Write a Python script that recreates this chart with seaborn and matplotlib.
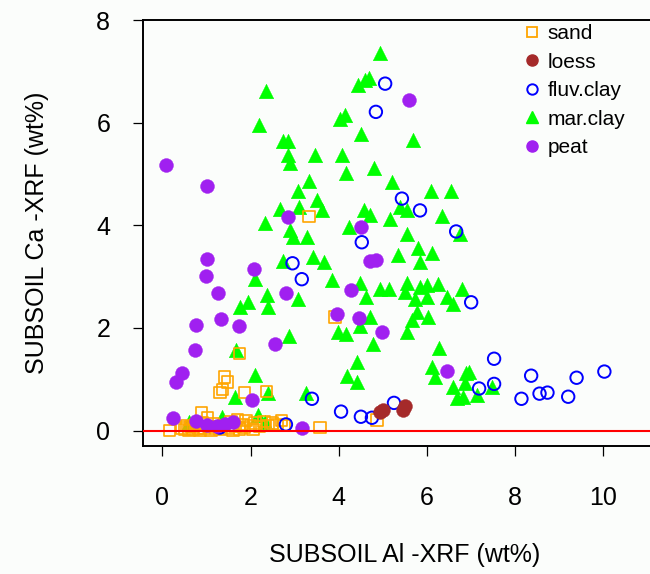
import matplotlib
matplotlib.use("Agg")
import matplotlib.pyplot as plt
from matplotlib.lines import Line2D
import seaborn as sns
import pandas as pd

# ---------------- data ----------------
sand_x = [3.32, 3.91, 1.75, 1.41, 1.48, 1.36, 1.30, 1.86, 2.36, 3.57, 4.86, 0.16, 0.89, 1.02,
          0.45, 0.50, 0.55, 0.60, 0.65, 0.70, 0.75, 0.80, 0.85, 0.90, 0.95, 1.05, 1.10, 1.15,
          1.20, 1.30, 1.40, 1.50, 1.55, 1.60, 1.65, 1.70, 1.75, 1.80, 1.85, 1.90, 2.00, 2.05,
          2.10, 2.20, 2.30, 2.40, 2.50, 2.60, 2.70, 2.75]
sand_y = [4.17, 2.21, 1.50, 1.05, 0.95, 0.80, 0.74, 0.74, 0.76, 0.06, 0.21, 0.00, 0.35, 0.25,
          0.05, 0.02, 0.10, 0.00, 0.08, 0.03, 0.12, 0.05, 0.00, 0.15, 0.04, 0.08, 0.00, 0.13,
          0.05, 0.02, 0.10, 0.04, 0.18, 0.00, 0.08, 0.22, 0.03, 0.12, 0.06, 0.20, 0.10, 0.02,
          0.15, 0.08, 0.18, 0.10, 0.15, 0.12, 0.20, 0.10]

loess_x = [4.93, 5.00, 5.45, 5.50]
loess_y = [0.37, 0.41, 0.41, 0.47]

fluv_x = [5.05, 4.84, 5.43, 5.84, 6.66, 4.52, 2.95, 3.16, 7.00, 7.52, 8.36, 9.39, 10.02,
          7.52, 7.18, 8.14, 8.55, 8.73, 9.20, 3.39, 4.05, 4.50, 4.75, 5.25, 2.80, 1.30]
fluv_y = [6.76, 6.21, 4.52, 4.29, 3.88, 3.67, 3.26, 2.95, 2.50, 1.40, 1.07, 1.03, 1.15,
          0.91, 0.82, 0.62, 0.72, 0.74, 0.66, 0.62, 0.37, 0.27, 0.25, 0.54, 0.12, 0.06]

mar_x = [4.93, 4.59, 4.68, 4.43, 2.34, 4.02, 4.14, 2.20, 4.50, 2.73, 2.84, 2.84, 2.89, 3.45,
         4.07, 4.16, 4.80, 5.68, 3.32, 3.07, 3.50, 5.20, 6.09, 6.55, 2.66, 3.09, 3.61, 4.57,
         4.70, 5.39, 5.55, 6.34, 5.16, 2.32, 2.89, 2.95, 3.27, 4.23, 6.75, 5.55, 5.80, 6.11,
         5.34, 5.84, 3.41, 3.66, 2.73, 3.84, 4.48, 4.93, 4.61, 5.14, 5.55, 5.50, 5.84, 6.00,
         6.25, 6.80, 6.00, 5.73, 6.45, 6.59, 5.77, 6.02, 5.66, 5.55, 2.09, 2.36, 1.93, 1.75,
         2.39, 3.07, 4.70, 4.48, 3.98, 4.16, 4.77, 2.86, 1.66, 4.41, 4.18, 4.41, 2.09, 6.27,
         6.11, 6.18, 6.59, 6.89, 6.95, 6.86, 7.14, 6.68, 6.82, 7.48, 1.64, 2.39, 3.25, 2.16,
         0.61, 2.32, 1.36]
mar_y = [7.36, 6.83, 6.87, 6.74, 6.62, 6.08, 6.14, 5.96, 5.77, 5.65, 5.65, 5.36, 5.22, 5.36,
         5.36, 5.01, 5.11, 5.67, 4.87, 4.66, 4.49, 4.85, 4.66, 4.66, 4.31, 4.35, 4.29, 4.29,
         4.21, 4.35, 4.29, 4.19, 4.12, 4.04, 3.90, 3.77, 3.77, 3.96, 3.84, 3.84, 3.55, 3.46,
         3.42, 3.28, 3.38, 3.28, 3.30, 2.93, 2.87, 2.76, 2.60, 2.76, 2.87, 2.70, 2.80, 2.83,
         2.85, 2.76, 2.60, 2.56, 2.60, 2.47, 2.31, 2.21, 2.16, 1.92, 2.95, 2.64, 2.50, 2.41,
         2.41, 2.56, 2.21, 2.04, 1.92, 1.88, 1.69, 1.84, 1.57, 1.34, 1.07, 0.95, 1.09, 1.61,
         1.24, 1.05, 0.85, 1.13, 1.15, 0.93, 0.70, 0.64, 0.66, 0.85, 0.66, 0.74, 0.74, 0.31,
         0.16, 0.17, 0.27]

peat_x = [0.09, 1.00, 5.59, 2.84, 4.50, 1.00, 0.98, 2.07, 4.70, 4.84, 1.25, 2.80, 4.27, 3.95,
          4.45, 1.32, 0.77, 1.73, 4.98, 2.55, 0.75, 0.45, 0.30, 6.45, 2.02, 0.25, 0.77, 1.00,
          1.23, 1.43, 1.59, 3.16]
peat_y = [5.18, 4.76, 6.45, 4.16, 3.96, 3.34, 3.01, 3.15, 3.30, 3.32, 2.68, 2.68, 2.74, 2.27,
          2.19, 2.17, 2.06, 2.04, 1.92, 1.69, 1.57, 1.13, 0.95, 1.17, 0.60, 0.25, 0.19, 0.10,
          0.08, 0.12, 0.17, 0.06]

legend_labels = ["sand", "loess", "fluv.clay", "mar.clay", "peat"]
x_ticks = [0, 2, 4, 6, 8, 10]
y_ticks = [0, 2, 4, 6, 8]

# ---------------- style ----------------
C_SAND, C_LOESS, C_FLUV, C_MAR, C_PEAT = "#FFA500", "#A52A2A", "#0000FF", "#00FF00", "#A020F0"
sns.set_style("white")
plt.rcParams["font.family"] = ["Liberation Sans", "DejaVu Sans"]
plt.rcParams["text.color"] = "black"
plt.rcParams["axes.labelcolor"] = "black"
plt.rcParams["xtick.color"] = "black"
plt.rcParams["ytick.color"] = "black"

W, H = 650, 574
fig = plt.figure(figsize=(W / 100, H / 100), dpi=100)
bg = "#fbfdfb"
fig.patch.set_facecolor(bg)
# axes box in pixels: left 143, right 667 (cropped), top 20, bottom 446
ax = fig.add_axes([143 / W, (H - 446) / H, 524 / W, 426 / H])
ax.set_facecolor(bg)

def df(x, y):
    return pd.DataFrame({"x": x, "y": y})

sns.scatterplot(data=df(mar_x, mar_y), x="x", y="y", ax=ax, marker="^", s=110,
                color=C_MAR, edgecolor=C_MAR, linewidth=0.3, legend=False, zorder=2)
sns.scatterplot(data=df(sand_x, sand_y), x="x", y="y", ax=ax, marker="s", s=70,
                fc="none", ec=C_SAND, linewidth=1.2, legend=False, zorder=3)
sns.scatterplot(data=df(fluv_x, fluv_y), x="x", y="y", ax=ax, marker="o", s=80,
                fc="none", ec=C_FLUV, linewidth=1.4, legend=False, zorder=4)
sns.scatterplot(data=df(loess_x, loess_y), x="x", y="y", ax=ax, marker="o", s=100,
                color=C_LOESS, edgecolor=C_LOESS, linewidth=0.3, legend=False, zorder=5)
sns.scatterplot(data=df(peat_x, peat_y), x="x", y="y", ax=ax, marker="o", s=100,
                color=C_PEAT, edgecolor=C_PEAT, linewidth=0.3, legend=False, zorder=6)

ax.axhline(0, color="#FF0000", lw=1.5, zorder=7)

ax.set_xlim(-0.44, 11.44)
ax.set_ylim(-0.3, 8.0)
ax.set_xticks(x_ticks)
ax.set_yticks(y_ticks)
ax.set_xticklabels([str(t) for t in x_ticks])
ax.set_yticklabels([str(t) for t in y_ticks])
ax.tick_params(axis="both", direction="out", length=7.5, width=0.9, colors="black",
               labelsize=18, bottom=True, left=True)
ax.tick_params(axis="x", pad=21)
ax.tick_params(axis="y", pad=16)

for s in ["left", "bottom", "top", "right"]:
    ax.spines[s].set_color("black")
    ax.spines[s].set_linewidth(1.4)

ax.set_xlabel("SUBSOIL Al -XRF (wt%)", fontsize=18, color="black")
ax.set_ylabel("SUBSOIL Ca -XRF (wt%)", fontsize=18, color="black")
ax.xaxis.set_label_coords(0.5, (446 - 555) / 426)
ax.xaxis.label.set_va("center")
ax.yaxis.set_label_coords((37 - 143) / 524, 0.5)
ax.yaxis.label.set_va("center")

handles = [
    Line2D([], [], ls="none", marker="s", ms=7, mfc="none", mec=C_SAND, mew=1.3),
    Line2D([], [], ls="none", marker="o", ms=8, mfc=C_LOESS, mec=C_LOESS),
    Line2D([], [], ls="none", marker="o", ms=7.5, mfc="none", mec=C_FLUV, mew=1.4),
    Line2D([], [], ls="none", marker="^", ms=8, mfc=C_MAR, mec=C_MAR),
    Line2D([], [], ls="none", marker="o", ms=8, mfc=C_PEAT, mec=C_PEAT),
]
leg = ax.legend(handles, legend_labels, loc="upper left", bbox_to_anchor=(523.7 / W, 1 - 24 / H),
                bbox_transform=fig.transFigure, frameon=False, fontsize=15, handlelength=0.8,
                handletextpad=0.35, labelspacing=0.46, borderpad=0, borderaxespad=0)
for t in leg.get_texts():
    t.set_color("black")

fig.savefig("out.png", dpi=100, facecolor=bg)
